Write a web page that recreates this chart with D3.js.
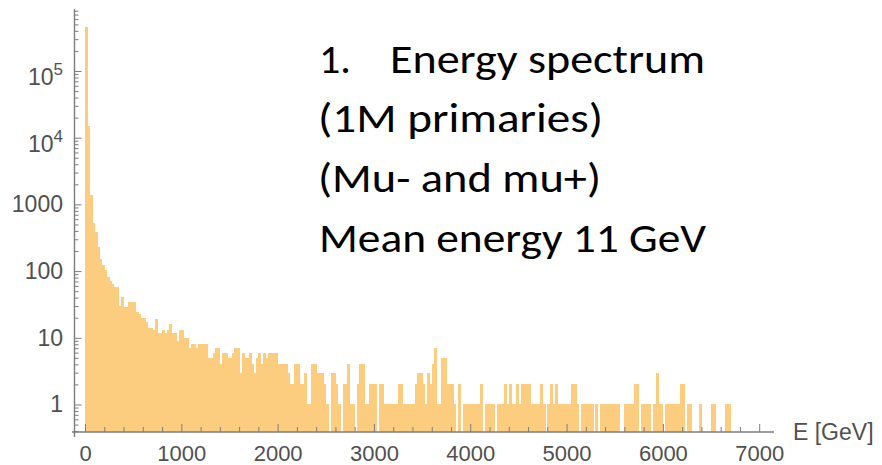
<!DOCTYPE html>
<html>
<head>
<meta charset="utf-8">
<script src="https://cdn.jsdelivr.net/npm/d3@7"></script>
<style>
  body { margin: 0; background: #fff; }
</style>
</head>
<body>
<svg id="chart" width="882" height="465"></svg>
<script>
// histogram of muon energies, 25 GeV bins, counts
const binWidth = 25;

// one array per 1000 GeV (40 bins each)
const counts0k = [460000, 15000, 1400, 530, 380, 230, 150, 125, 105, 82, 72, 63, 57, 57, 30, 41, 29, 29, 34, 34,
                  34, 24, 23, 20, 20, 17, 14, 14, 13, 19, 12, 12, 13, 12, 13, 16, 12, 12, 9, 13];
const counts1k = [13, 10, 10, 7, 8, 8, 7, 8, 8, 8, 8, 5, 5, 6, 7, 7, 4, 6, 6, 5,
                  5, 6, 7, 7, 3, 6, 5, 5, 6, 4, 3, 5, 6, 4, 6, 5, 6, 6, 6, 6];
const counts2k = [4, 4, 4, 4, 3, 2, 2, 4, 4, 2, 2, 3, 1, 1, 4, 4, 3, 3, 3, 2,
                  1, 0, 3, 3, 2, 1, 0, 2, 2, 4, 1, 1, 0, 2, 4, 4, 1, 1, 2, 2];
const counts3k = [2, 0, 2, 2, 1, 1, 1, 1, 1, 1, 2, 2, 1, 1, 1, 1, 1, 2, 3, 3,
                  2, 1, 3, 2, 4, 7, 1, 1, 5, 5, 2, 2, 2, 1, 0, 2, 0, 1, 1, 1];
const counts4k = [1, 1, 1, 1, 2, 0, 1, 1, 1, 1, 0, 1, 1, 1, 2, 1, 2, 1, 1, 2,
                  1, 2, 2, 2, 2, 1, 1, 1, 1, 2, 1, 0, 1, 2, 1, 2, 1, 1, 1, 1];
const counts5k = [1, 1, 2, 2, 1, 0, 1, 1, 1, 1, 1, 0, 1, 0, 1, 1, 1, 1, 1, 1,
                  1, 1, 0, 0, 1, 1, 1, 1, 2, 2, 0, 1, 1, 1, 1, 0, 1, 3, 1, 1];
const counts6k = [0, 1, 1, 1, 1, 1, 1, 2, 2, 0, 1, 1, 0, 0, 0, 1, 0, 0, 0, 0,
                  1, 1, 0, 0, 0, 0, 1, 1];

const xTicks = [0, 1000, 2000, 3000, 4000, 5000, 6000, 7000];
const yTicks = [1, 10, 100, 1000, 1e4, 1e5];
const yTickLabels = ["1", "10", "100", "1000", "10^4", "10^5"];
const xAxisTitle = "E [GeV]";

const noteNumber = "1.";
const noteLines = ["Energy spectrum", "(1M primaries)", "(Mu- and mu+)", "Mean energy 11 GeV"];

const counts = [].concat(counts0k, counts1k, counts2k, counts3k, counts4k, counts5k, counts6k);

const svg = d3.select("#chart");

const x = d3.scaleLinear()
    .domain([0, 7000])
    .range([85, 759.2]);

const y = d3.scaleLog()
    .domain([0.387, 8.5e5])
    .range([432, 9]);

const axisColor = "#7d7d7d";
const labelColor = "#505050";
const labelFont = "'Liberation Sans', Arial, sans-serif";

// bars
let bins = counts
    .map((c, i) => ({ x0: i * binWidth, x1: (i + 1) * binWidth, count: c }))
    .filter(d => d.count > 0);

svg.append("g")
    .attr("shape-rendering", "crispEdges")
    .selectAll("rect")
    .data(bins)
    .join("rect")
    .attr("x", d => x(d.x0))
    .attr("width", d => x(d.x1) - x(d.x0) + 0.6)
    .attr("y", d => y(d.count))
    .attr("height", d => y.range()[0] - y(d.count))
    .attr("fill", "#fccd7f");

// x axis
let xMinor = d3.range(0, 7001, 200).filter(v => v % 1000 !== 0);

svg.append("g")
    .attr("transform", "translate(0,432)")
    .attr("color", axisColor)
    .call(d3.axisBottom(x).tickValues(xMinor).tickSize(-5).tickFormat(""))
    .call(g => g.select(".domain").remove());

svg.append("g")
    .attr("transform", "translate(0,432)")
    .attr("color", axisColor)
    .call(d3.axisBottom(x).tickValues(xTicks).tickSize(-8).tickPadding(13).tickFormat(d3.format("d")))
    .call(g => g.select(".domain").remove())
    .call(g => g.selectAll("text")
        .attr("fill", labelColor)
        .attr("font-family", labelFont)
        .attr("font-size", 22));

// y axis
let yMinor = [];
for (let k = -1; k <= 5; k++) {
    for (let m = 2; m <= 9; m++) {
        let v = m * Math.pow(10, k);
        if (v > y.domain()[0] && v < y.domain()[1]) yMinor.push(v);
    }
}

svg.append("g")
    .attr("transform", "translate(74.5,0)")
    .attr("color", axisColor)
    .call(d3.axisLeft(y).tickValues(yMinor).tickSize(-4).tickFormat(""))
    .call(g => g.select(".domain").remove());

svg.append("g")
    .attr("transform", "translate(74.5,0)")
    .attr("color", axisColor)
    .call(d3.axisLeft(y).tickValues(yTicks).tickSize(-7).tickPadding(11.5)
        .tickFormat((d, i) => yTickLabels[i]))
    .call(g => g.select(".domain").remove())
    .call(g => g.selectAll("text")
        .attr("fill", labelColor)
        .attr("font-family", labelFont)
        .attr("font-size", 23)
        .each(function () {
            let t = d3.select(this);
            let label = t.text();
            if (label.indexOf("^") < 0) return;
            let parts = label.split("^");
            t.text(null).attr("y", 6);
            t.append("tspan").text(parts[0]);
            t.append("tspan").attr("dy", -10).attr("font-size", 17).text(parts[1]);
        }));

// axis lines (Mathematica style, slightly overshooting each other)
svg.append("line")
    .attr("x1", 72).attr("x2", 774)
    .attr("y1", 432).attr("y2", 432)
    .attr("stroke", axisColor)
    .attr("stroke-width", 1.4);

svg.append("line")
    .attr("x1", 74.5).attr("x2", 74.5)
    .attr("y1", 9).attr("y2", 437)
    .attr("stroke", axisColor)
    .attr("stroke-width", 1.4);

svg.append("text")
    .attr("x", 793)
    .attr("y", 432)
    .attr("dy", "0.35em")
    .attr("fill", labelColor)
    .attr("font-family", labelFont)
    .attr("font-size", 23)
    .text(xAxisTitle);

// annotation block
const noteFont = "Carlito, Calibri, Lato, sans-serif";
const noteWidths = [315, 285, 283, 387];
const noteX = [390, 318, 318, 319];

svg.append("text")
    .attr("x", 319)
    .attr("y", 72.5)
    .attr("font-family", noteFont)
    .attr("font-size", 42)
    .attr("fill", "#000")
    .text(noteNumber);

svg.append("g")
    .selectAll("text")
    .data(noteLines)
    .join("text")
    .attr("x", (d, i) => noteX[i])
    .attr("y", (d, i) => 72.5 + i * 59.7)
    .attr("font-family", noteFont)
    .attr("font-size", 42)
    .attr("fill", "#000")
    .attr("textLength", (d, i) => noteWidths[i])
    .attr("lengthAdjust", "spacingAndGlyphs")
    .text(d => d);
</script>
</body>
</html>
